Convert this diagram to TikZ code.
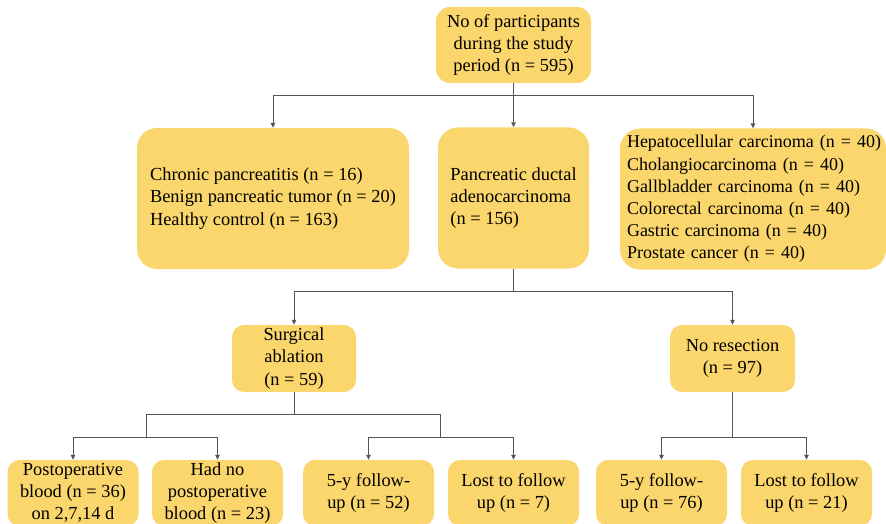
\documentclass[tikz,border=0pt]{standalone}
\usepackage{fontspec}
\setmainfont{Liberation Serif}
\usetikzlibrary{arrows.meta}
\definecolor{boxyellow}{RGB}{250,214,108}
\definecolor{linegray}{RGB}{85,85,85}
\tikzstyle{bigbox} = [rectangle, rounded corners=20pt, fill=boxyellow,
                     align=left, inner sep=0pt,
                     font=\fontsize{18.4}{22.2}\selectfont, minimum height=141pt]
\tikzstyle{smallbox} = [rectangle, rounded corners=12pt, fill=boxyellow,
                     align=center, inner sep=0pt,
                     font=\fontsize{18.4}{22.2}\selectfont, minimum height=67pt]
\tikzstyle{leafbox} = [smallbox, minimum width=131pt, minimum height=66pt]
\tikzstyle{line} = [draw=linegray, line width=1pt]
\tikzstyle{arrow} = [line, -{Triangle[length=5pt,width=4.5pt]}]

\begin{document}
\begin{tikzpicture}[x=1pt, y=-1pt]
\clip (0,0) rectangle (886,524);
% Participants
\node[smallbox, rounded corners=14pt, minimum width=155pt, minimum height=76pt] at (513.5,45) (top){No of participants\\during the study\\period (n = 595)};

% First split
\node[bigbox, minimum width=272pt] at (273,198.5) (control){Chronic pancreatitis (n = 16)\\Benign pancreatic tumor (n = 20)\\Healthy control (n = 163)};
\node[bigbox, minimum width=151pt] at (513.5,198) (pdac){Pancreatic ductal\\adenocarcinoma\\(n = 156)};
\node[bigbox, text width=252pt, inner xsep=7pt, font=\fontsize{18}{22.2}\selectfont] at (753,199) (other){\mbox{Hepatocellular carcinoma (n = 40)}\\Cholangiocarcinoma (n = 40)\\Gallbladder carcinoma (n = 40)\\Colorectal carcinoma (n = 40)\\Gastric carcinoma (n = 40)\\Prostate cancer (n = 40)};

% PDAC split
\node[smallbox, minimum width=124pt] at (294,358.5) (surg){Surgical\\ablation\\(n = 59)};
\node[smallbox, minimum width=125pt] at (732.5,358.5) (nores){No resection\\(n = 97)};

% Leaves
\node[leafbox] at (73,493) (post){Postoperative\\blood (n = 36)\\on 2,7,14 d};
\node[leafbox] at (217.5,493) (nopost){Had no\\postoperative\\blood (n = 23)};
\node[leafbox] at (368.5,493) (fu1){5-y follow-\\up (n = 52)};
\node[leafbox] at (513.5,493) (lost1){Lost to follow\\up (n = 7)};
\node[leafbox] at (661.5,493) (fu2){5-y follow-\\up (n = 76)};
\node[leafbox] at (806.5,493) (lost2){Lost to follow\\up (n = 21)};

% Connectors
\coordinate (j1) at (513.5,96);
\draw[arrow] (top.south) -- (pdac.north);
\draw[arrow] (j1) -| (control.north);
\draw[arrow] (j1) -| (other.north);

\coordinate (j2) at (513.5,291);
\draw[line] (pdac.south) -- (j2);
\draw[arrow] (j2) -| (surg.north);
\draw[arrow] (j2) -| (nores.north);

\coordinate (j3) at (294,414);
\coordinate (j4) at (146,437);
\coordinate (j5) at (440,437);
\draw[line] (surg.south) -- (j3);
\draw[line] (j3) -| (j4);
\draw[line] (j3) -| (j5);
\draw[arrow] (j4) -| (post.north);
\draw[arrow] (j4) -| (nopost.north);
\draw[arrow] (j5) -| (fu1.north);
\draw[arrow] (j5) -| (lost1.north);

\coordinate (j6) at (732.5,437);
\draw[line] (nores.south) -- (j6);
\draw[arrow] (j6) -| (fu2.north);
\draw[arrow] (j6) -| (lost2.north);
\end{tikzpicture}
\end{document}
